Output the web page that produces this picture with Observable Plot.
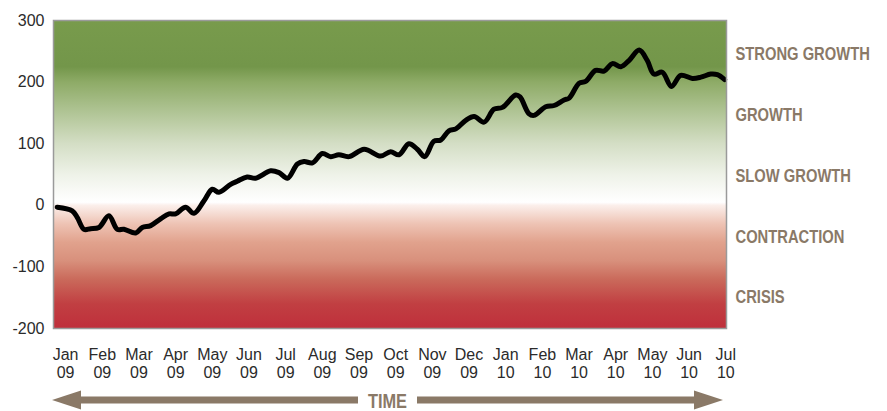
<!DOCTYPE html>
<html>
<head>
<meta charset="utf-8">
<script src="https://cdn.jsdelivr.net/npm/d3@7"></script>
<script src="https://cdn.jsdelivr.net/npm/@observablehq/plot@0.6"></script>
<style>
  html, body { margin: 0; padding: 0; background: #fff; }
  #chart svg { display: block; }
</style>
</head>
<body>
<div id="chart"></div>
<script>
// ---- data ----
// time in months since Jan 2009 (0 = Jan 09, 18 = Jul 10)
const pointMonth = [-0.23,0.18,0.32,0.50,0.68,0.91,1.18,1.41,1.59,1.91,2.09,2.32,2.59,2.82,3.00,3.27,3.50,3.77,4.00,4.18,4.50,4.68,4.95,5.18,5.59,5.82,6.05,6.32,6.50,6.73,7.00,7.23,7.45,7.73,8.14,8.59,8.86,9.09,9.36,9.59,9.79,10.04,10.23,10.45,10.64,10.91,11.14,11.41,11.68,11.91,12.27,12.39,12.63,12.77,13.09,13.32,13.59,13.73,14.00,14.18,14.45,14.68,14.91,15.14,15.36,15.64,15.86,16.04,16.27,16.52,16.77,17.09,17.32,17.59,17.77,17.97];
const pointValue = [-3,-9,-20,-39,-38,-36,-17,-39,-39,-45,-36,-33,-22,-14,-14,-3,-13,7,26,21,34,39,46,44,56,53,44,67,71,69,84,79,82,79,91,80,87,82,100,91,79,104,106,121,124,138,144,135,156,159,179,176,149,146,160,162,171,174,198,201,219,218,230,225,235,252,235,213,216,193,211,206,208,213,212,204];

const monthLabels = ["Jan","Feb","Mar","Apr","May","Jun","Jul","Aug","Sep","Oct","Nov","Dec","Jan","Feb","Mar","Apr","May","Jun","Jul"];
const yearLabels  = ["09","09","09","09","09","09","09","09","09","09","09","09","10","10","10","10","10","10","10"];
const yTicks = [-200,-100,0,100,200,300];

const zoneLabels = ["STRONG GROWTH","GROWTH","SLOW GROWTH","CONTRACTION","CRISIS"];
const zoneValues = [245,147,48,-52,-150];

const axisTitle = "TIME";

// ---- build ----
const series = pointMonth.map((m, i) => ({m, v: pointValue[i]}));
const zones = zoneLabels.map((label, i) => ({label, v: zoneValues[i]}));

const W = 887, H = 411;
const brown = "#8a7967";
const boldFont = "'Liberation Sans', Arial, sans-serif";

const chart = Plot.plot({
  width: W,
  height: H,
  marginLeft: 53,
  marginRight: 161,
  marginTop: 20,
  marginBottom: 83,
  style: {fontFamily: "'Liberation Sans', Arial, sans-serif", background: "#fff", overflow: "visible"},
  x: {domain: [-0.33, 18.02], axis: null},
  y: {domain: [-200, 300], axis: null},
  marks: [
    Plot.frame({fill: "url(#zoneGradient)", stroke: null}),
    Plot.axisY(yTicks, {label: null, tickSize: 0, tickPadding: 9, fontSize: 16, fill: "#2b2b2b", tickFormat: d => String(d)}),
    Plot.axisX(d3.range(monthLabels.length), {
      label: null, tickSize: 0, tickPadding: 18, fontSize: 16, lineHeight: 1.15, fill: "#2b2b2b",
      tickFormat: i => monthLabels[i] + "\n" + yearLabels[i]
    }),
    Plot.line(series, {x: "m", y: "v", stroke: "#000", strokeWidth: 5, curve: "catmull-rom", strokeLinejoin: "round", strokeLinecap: "round"}),
    Plot.frame({stroke: "#9a9a9a", strokeWidth: 1.5}),
    Plot.text(zones, {y: "v", text: "label", frameAnchor: "right", dx: 9, textAnchor: "start",
      fill: brown, fontSize: 18, fontWeight: "bold", fontFamily: boldFont, className: "narrow"})
  ]
});

// gradient definition for the background zones
const svg = d3.select(chart);
const defs = svg.insert("defs", ":first-child");
const grad = defs.append("linearGradient")
  .attr("id", "zoneGradient")
  .attr("x1", 0).attr("y1", 0).attr("x2", 0).attr("y2", 1);
const stops = [
  [0.00, "#789b4c"], [0.15, "#73964a"], [0.20, "#8eab67"], [0.30, "#b1c596"],
  [0.40, "#d4dec5"], [0.50, "#eef2e8"], [0.56, "#fafbf8"], [0.59, "#ffffff"],
  [0.60, "#fbefeb"], [0.66, "#eec3b4"], [0.72, "#e1a28d"], [0.78, "#d8907c"],
  [0.84, "#ca6a5b"], [0.92, "#c13f42"], [1.00, "#bf2f3b"]
];
stops.forEach(([o, c]) => grad.append("stop").attr("offset", o).attr("stop-color", c));

// bottom "TIME" double arrow
const xs = chart.scale("x");
const left = xs.range[0] - 1, right = xs.range[1] - 3;
const ay = H - 11;
const gapL = 358, gapR = 417;
const g = svg.append("g").attr("fill", brown);
const shaft = 7, head = 9.5, headLen = 29;
g.append("rect").attr("x", left + headLen).attr("y", ay - shaft / 2).attr("width", gapL - left - headLen).attr("height", shaft);
g.append("rect").attr("x", gapR).attr("y", ay - shaft / 2).attr("width", right - headLen - gapR).attr("height", shaft);
g.append("path").attr("d", `M${left},${ay}L${left + headLen},${ay - head}L${left + headLen},${ay + head}Z`);
g.append("path").attr("d", `M${right},${ay}L${right - headLen},${ay - head}L${right - headLen},${ay + head}Z`);
g.append("text").attr("class", "narrowT").attr("x", (gapL + gapR) / 2).attr("y", ay + 8)
  .attr("text-anchor", "middle").attr("font-size", 20).attr("font-weight", "bold")
  .attr("font-family", boldFont)
  .text(axisTitle);

document.getElementById("chart").appendChild(chart);

// condense the bold labels horizontally (the original uses a condensed face)
const squeeze = 0.82;
svg.selectAll(".narrow text, text.narrowT").each(function() {
  const b = this.getBBox();
  const anchor = this.getAttribute("text-anchor") || getComputedStyle(this).textAnchor;
  const x0 = anchor === "middle" ? b.x + b.width / 2 : b.x;
  const prev = this.getAttribute("transform") || "";
  this.setAttribute("transform", `${prev} translate(${x0.toFixed(2)},0) scale(${squeeze},1) translate(${(-x0).toFixed(2)},0)`.trim());
});
</script>
</body>
</html>
